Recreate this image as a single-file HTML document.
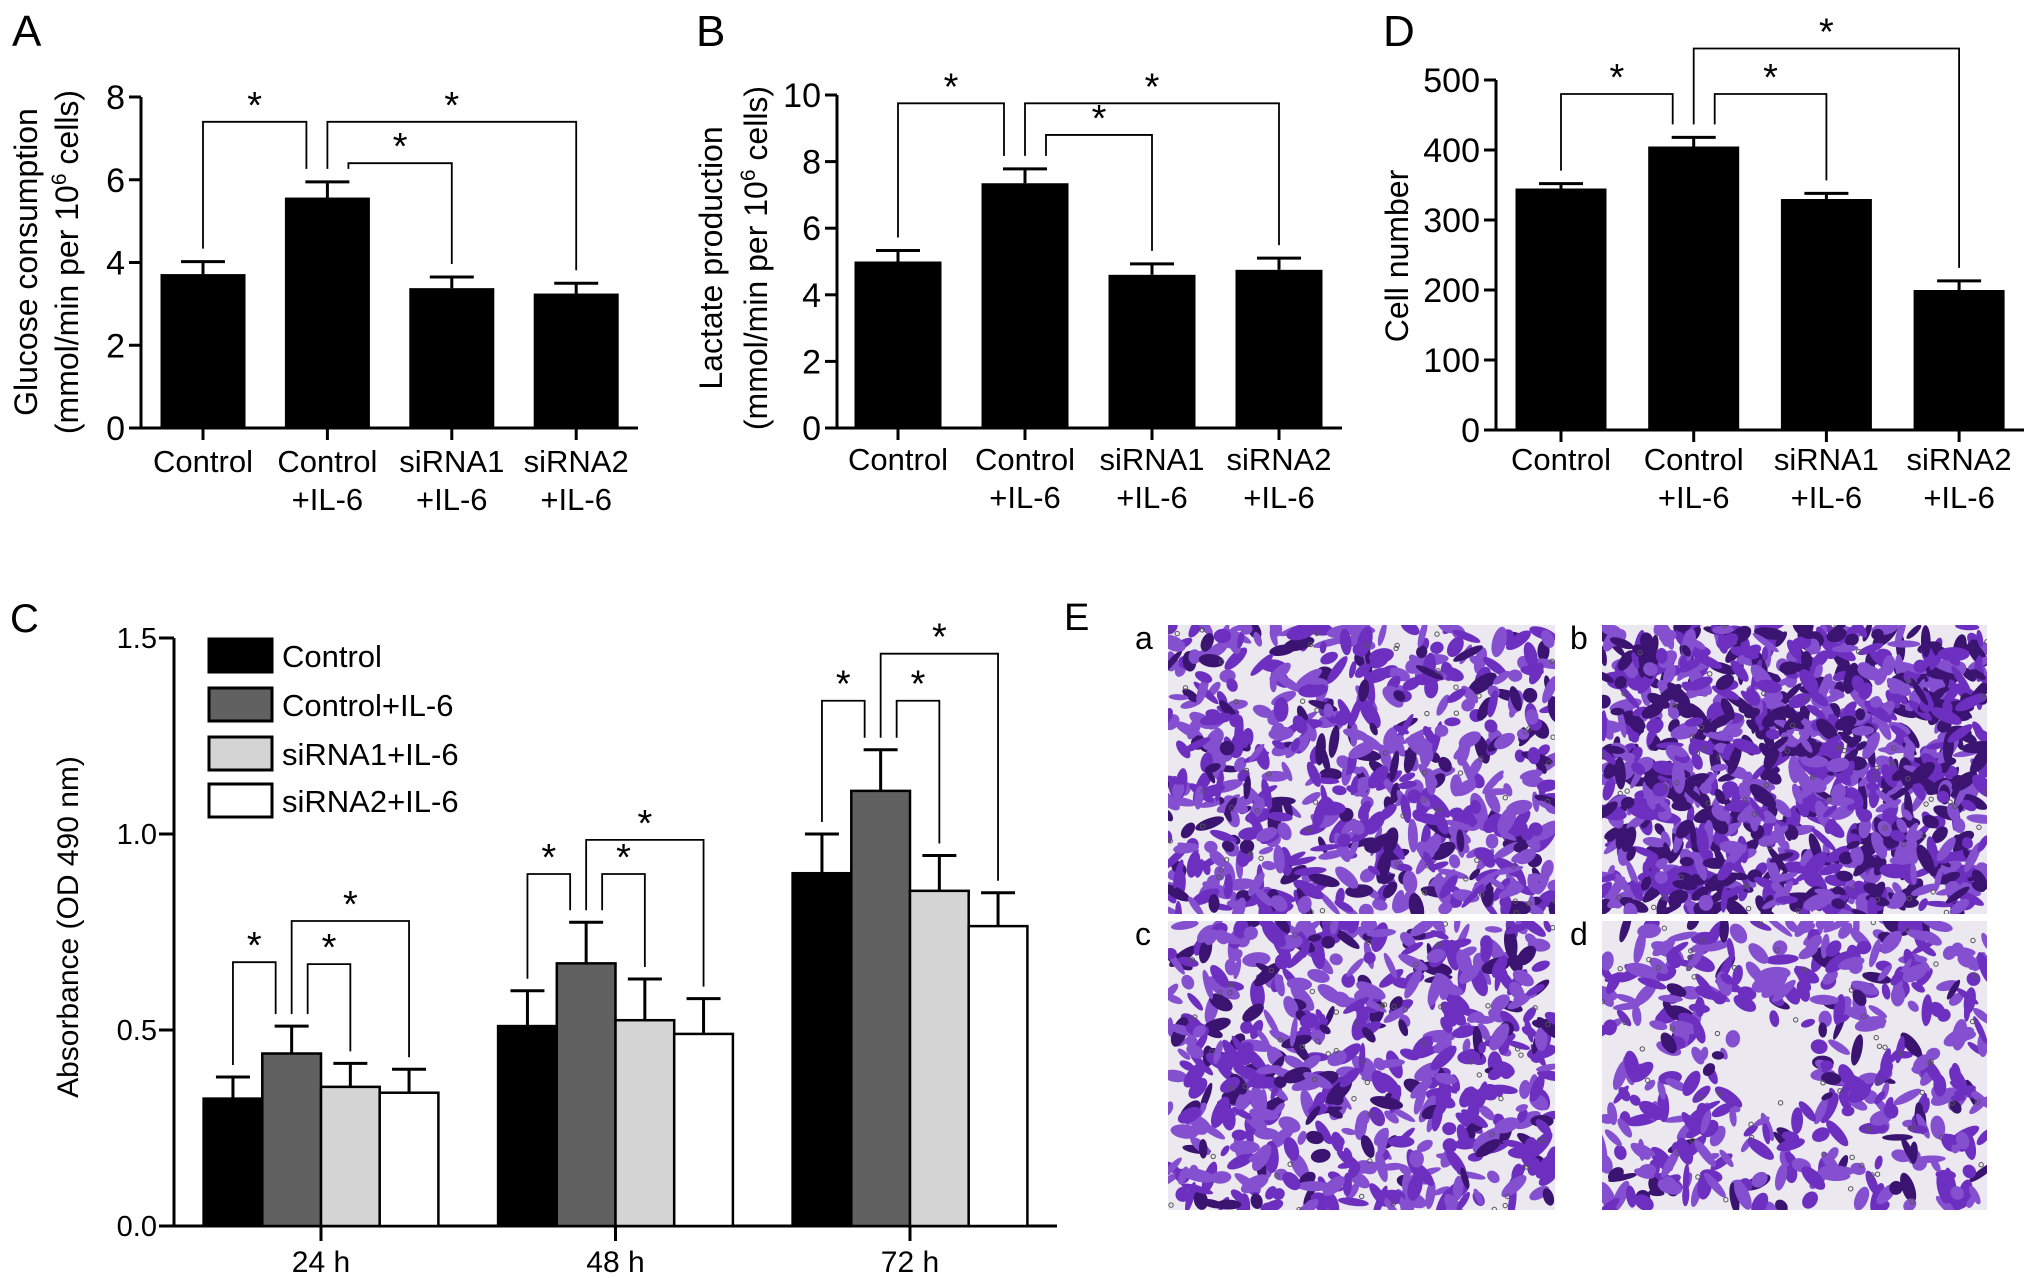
<!DOCTYPE html>
<html><head><meta charset="utf-8"><style>
html,body{margin:0;padding:0;background:#fff}
svg{display:block}
text{font-family:"Liberation Sans",Arial,sans-serif;fill:#000}
</style></head><body>
<svg id="fig" width="2031" height="1278" viewBox="0 0 2031 1278" xmlns="http://www.w3.org/2000/svg">
<defs>
<clipPath id="clipA"><rect x="1168" y="625" width="387" height="289"/></clipPath>
<clipPath id="clipB"><rect x="1602" y="625" width="385" height="289"/></clipPath>
<clipPath id="clipC"><rect x="1168" y="921" width="387" height="289"/></clipPath>
<clipPath id="clipD"><rect x="1602" y="921" width="385" height="289"/></clipPath>
</defs>
</svg>
<script>
// ---- data ----
const groupCats = ["Control", "Control\n+IL-6", "siRNA1\n+IL-6", "siRNA2\n+IL-6"];
const glucoseValues = [3.72, 5.57, 3.38, 3.25];
const glucoseErrors = [0.30, 0.38, 0.27, 0.25];
const glucoseTicks = ["0", "2", "4", "6", "8"];
const lactateValues = [5.0, 7.35, 4.6, 4.75];
const lactateErrors = [0.33, 0.43, 0.33, 0.35];
const lactateTicks = ["0", "2", "4", "6", "8", "10"];
const cellValues = [345, 405, 330, 200];
const cellErrors = [7, 13, 8, 13];
const cellTicks = ["0", "100", "200", "300", "400", "500"];
const timeCats = ["24 h", "48 h", "72 h"];
const seriesNames = ["Control", "Control+IL-6", "siRNA1+IL-6", "siRNA2+IL-6"];
const absControl = [0.325, 0.51, 0.90];
const absControlIL6 = [0.44, 0.67, 1.11];
const absSiRNA1 = [0.355, 0.525, 0.855];
const absSiRNA2 = [0.34, 0.49, 0.765];
const errControl = [0.055, 0.09, 0.10];
const errControlIL6 = [0.07, 0.105, 0.105];
const errSiRNA1 = [0.06, 0.105, 0.09];
const errSiRNA2 = [0.06, 0.09, 0.085];
const absTicks = ["0.0", "0.5", "1.0", "1.5"];
const glucoseBrackets = [7.4, 7.4, 6.4];
const lactateBrackets = [9.75, 9.75, 8.8];
const cellBrackets = [480, 545, 480];
const absBrackets24 = [0.673, 0.778, 0.668];
const absBrackets48 = [0.898, 0.985, 0.898];
const absBrackets72 = [1.34, 1.46, 1.34];

const NS = "http://www.w3.org/2000/svg";
const svg = document.getElementById('fig');
function mk(tag, attrs, parent) {
  const e = document.createElementNS(NS, tag);
  for (const k in attrs) e.setAttribute(k, attrs[k]);
  (parent || svg).appendChild(e);
  return e;
}
function line(x1, y1, x2, y2, w, parent) {
  return mk('line', {x1, y1, x2, y2, stroke: '#000', 'stroke-width': w || 2}, parent);
}
function txt(s, x, y, size, anchor, parent) {
  const t = mk('text', {x, y, 'font-size': size, 'text-anchor': anchor || 'middle'}, parent);
  t.textContent = s;
  return t;
}
function star(x, y, parent) {
  const t = txt('*', x, y + 8, 38, 'middle', parent);
  
  
}
function bracket(x1, x2, yTop, yL, yR, parent) {
  const p = mk('polyline', {points: `${x1},${yL} ${x1},${yTop} ${x2},${yTop} ${x2},${yR}`, fill: 'none', stroke: '#000', 'stroke-width': 1.8}, parent);
  
  
  star((x1 + x2) / 2, yTop - 12, parent);
}

function barPanel(cfg) {
  const g = mk('g', {});
  
  
  const y = v => cfg.y0 - (v / cfg.max) * (cfg.y0 - cfg.yTop);
  const xc = i => cfg.c0 + i * cfg.step;
  const ya = line(cfg.ax, y(cfg.max), cfg.ax, cfg.y0 + 1, 3, g);
   
  const xa = line(cfg.ax, cfg.y0, cfg.xEnd, cfg.y0, 3, g);
   
  cfg.ticks.forEach((t, i) => {
    const v = cfg.max * i / (cfg.ticks.length - 1);
    line(cfg.ax - 12, y(v), cfg.ax, y(v), 3, g);
    const tl = txt(t, cfg.ax - 16, y(v) + 12, 34, 'end', g);
    
    
  });
  cfg.values.forEach((v, i) => {
    const r = mk('rect', {x: xc(i) - cfg.bw / 2, y: y(v), width: cfg.bw, height: cfg.y0 - y(v), fill: '#000'}, g);
    
    
    const et = y(v + cfg.errors[i]);
    line(xc(i), y(v), xc(i), et, 3, g);
    const cap = line(xc(i) - 22, et, xc(i) + 22, et, 3, g);
    
    
    line(xc(i), cfg.y0, xc(i), cfg.y0 + 12, 3, g);
    const parts = groupCats[i].split('\n');
    parts.forEach((p, k) => {
      const cl = txt(p, xc(i), cfg.labY + k * 38, 31, 'middle', g);
      
      
    });
  });
  const et = i => y(cfg.values[i] + cfg.errors[i]) - 13;
  const b = cfg.brackets;
  bracket(xc(0), xc(1) - 21, y(b[0]), et(0), et(1), g);
  bracket(xc(1), xc(3), y(b[1]), et(1), et(3), g);
  bracket(xc(1) + 21, xc(2), y(b[2]), et(1), et(2), g);
  cfg.title.forEach((ln, k) => {
    const t = mk('text', {x: 0, y: 0, 'font-size': 32, 'text-anchor': 'middle', transform: `translate(${ln.x},${cfg.titleY}) rotate(-90)`}, g);
    
    
    if (ln.sup) {
      t.appendChild(document.createTextNode(ln.a));
      const s = document.createElementNS(NS, 'tspan');
      s.setAttribute('dy', '-12'); s.setAttribute('font-size', '21');
      s.textContent = ln.sup; t.appendChild(s);
      const s2 = document.createElementNS(NS, 'tspan');
      s2.setAttribute('dy', '12');
      s2.textContent = ln.b; t.appendChild(s2);
    } else t.textContent = ln.a;
  });
  const L = txt(cfg.letter, cfg.letterX, 46, 44, 'start', g);
  
  
}

barPanel({name: 'panel-a-glucose', letter: 'A', letterX: 12, ax: 141, xEnd: 638, y0: 428, yTop: 97, max: 8,
  c0: 203, step: 124.4, bw: 85, values: glucoseValues, errors: glucoseErrors, ticks: glucoseTicks, brackets: glucoseBrackets,
  labY: 472, titleY: 262, title: [{x: 37, a: 'Glucose consumption'}, {x: 78, sup: '6', a: '(mmol/min per 10', b: ' cells)'}]});
barPanel({name: 'panel-b-lactate', letter: 'B', letterX: 696, ax: 837, xEnd: 1342, y0: 428, yTop: 95, max: 10,
  c0: 898, step: 127, bw: 87, values: lactateValues, errors: lactateErrors, ticks: lactateTicks, brackets: lactateBrackets,
  labY: 470, titleY: 258, title: [{x: 722, a: 'Lactate production'}, {x: 767, sup: '6', a: '(mmol/min per 10', b: ' cells)'}]});
barPanel({name: 'panel-d-cell-number', letter: 'D', letterX: 1383, ax: 1496, xEnd: 2024, y0: 430, yTop: 80, max: 500,
  c0: 1561, step: 132.7, bw: 91, values: cellValues, errors: cellErrors, ticks: cellTicks, brackets: cellBrackets,
  labY: 470, titleY: 256, title: [{x: 1408, a: 'Cell number'}]});

(function () {
  const g = mk('g', {});
  
  
  const ax = 174, y0 = 1226, yTop = 638, max = 1.5, xEnd = 1057;
  const y = v => y0 - (v / max) * (y0 - yTop);
  const gc = i => 321 + i * 294.5;
  const bw = 58.7;
  const bx = (i, s) => gc(i) - 2 * bw + s * bw;
  const series = [absControl, absControlIL6, absSiRNA1, absSiRNA2];
  const errs = [errControl, errControlIL6, errSiRNA1, errSiRNA2];
  const fills = ['#000000', '#616161', '#d4d4d4', '#ffffff'];
  line(ax, yTop, ax, y0 + 1, 3, g);
  line(ax, y0, xEnd, y0, 3, g);
  absTicks.forEach((t, i) => {
    const v = max * i / (absTicks.length - 1);
    line(ax - 15, y(v), ax, y(v), 3, g);
    const tl = txt(t, ax - 17, y(v) + 10, 29, 'end', g);
    
    
  });
  timeCats.forEach((c, i) => {
    series.forEach((sv, s) => {
      const v = sv[i];
      const r = mk('rect', {x: bx(i, s), y: y(v), width: bw, height: y0 - y(v), fill: fills[s], stroke: '#000', 'stroke-width': 2.5}, g);
      
      
      const cx = bx(i, s) + bw / 2, et = y(v + errs[s][i]);
      line(cx, y(v), cx, et, 3, g);
      line(cx - 17, et, cx + 17, et, 3, g);
    });
    line(gc(i), y0, gc(i), y0 + 15, 3, g);
    const xl = txt(c, gc(i), 1272, 30, 'middle', g);
    
    
  });
  const bl = [absBrackets24, absBrackets48, absBrackets72];
  timeCats.forEach((c, i) => {
    const cx = s => bx(i, s) + bw / 2;
    const et = s => y(series[s][i] + errs[s][i]) - 12;
    bracket(cx(0), cx(1) - 16, y(bl[i][0]), et(0), et(1), g);
    bracket(cx(1), cx(3), y(bl[i][1]), et(1), et(3), g);
    bracket(cx(1) + 16, cx(2), y(bl[i][2]), et(1), et(2), g);
  });
  const legY = [639, 688, 737, 784];
  seriesNames.forEach((n, s) => {
    const r = mk('rect', {x: 209, y: legY[s], width: 63, height: 33, fill: fills[s], stroke: '#000', 'stroke-width': 3}, g);
    
    
    const t = txt(n, 282, legY[s] + 28, 31, 'start', g);
    
    
  });
  const t = mk('text', {x: 0, y: 0, 'font-size': 30, 'text-anchor': 'middle', transform: 'translate(78,927) rotate(-90)'}, g);
  t.textContent = 'Absorbance (OD 490 nm)';
  
  
  const L = txt('C', 10, 632, 40, 'start', g);
  
  
})();

(function () {
  const g = mk('g', {});
  
  
  let seed = 7;
  const rnd = () => { seed = (seed * 16807) % 2147483647; return seed / 2147483647; };
  const imgs = [
    {id: 'a', x: 1168, y: 625, w: 387, h: 289, clip: 'clipA', n: 650, dark: 0.2},
    {id: 'b', x: 1602, y: 625, w: 385, h: 289, clip: 'clipB', n: 1100, dark: 0.35},
    {id: 'c', x: 1168, y: 921, w: 387, h: 289, clip: 'clipC', n: 580, dark: 0.18},
    {id: 'd', x: 1602, y: 921, w: 385, h: 289, clip: 'clipD', n: 480, dark: 0.14}
  ];
  imgs.forEach(im => {
    const ig = mk('g', {'clip-path': `url(#${im.clip})`}, g);
    
    
    mk('rect', {x: im.x, y: im.y, width: im.w, height: im.h, fill: '#ebe8ef'}, ig);
    for (let k = 0; k < im.n; k++) {
      const cx = im.x + rnd() * im.w, cy = im.y + rnd() * im.h;
      if (im.id === 'd' && Math.hypot(cx - (im.x + 170), cy - (im.y + 150)) < 50) continue;
      const col = rnd() < im.dark ? '#3a1470' : (rnd() < 0.5 ? '#6d2fc0' : '#8550cf');
      mk('ellipse', {cx, cy, rx: 6 + rnd() * 11, ry: 3 + rnd() * 4.5, fill: col, transform: `rotate(${rnd() * 180} ${cx} ${cy})`}, ig);
    }
    for (let k = 0; k < 60; k++) {
      mk('circle', {cx: im.x + rnd() * im.w, cy: im.y + rnd() * im.h, r: 2.2, fill: 'none', stroke: '#555', 'stroke-width': 1}, ig);
    }
    const lx = im.id === 'a' || im.id === 'c' ? 1135 : 1570;
    const lt = txt(im.id, lx, im.y + 24, 32, 'start', g);
    
    
  });
  const L = txt('E', 1064, 630, 38, 'start', g);
  
  
})();
</script>
</body></html>
